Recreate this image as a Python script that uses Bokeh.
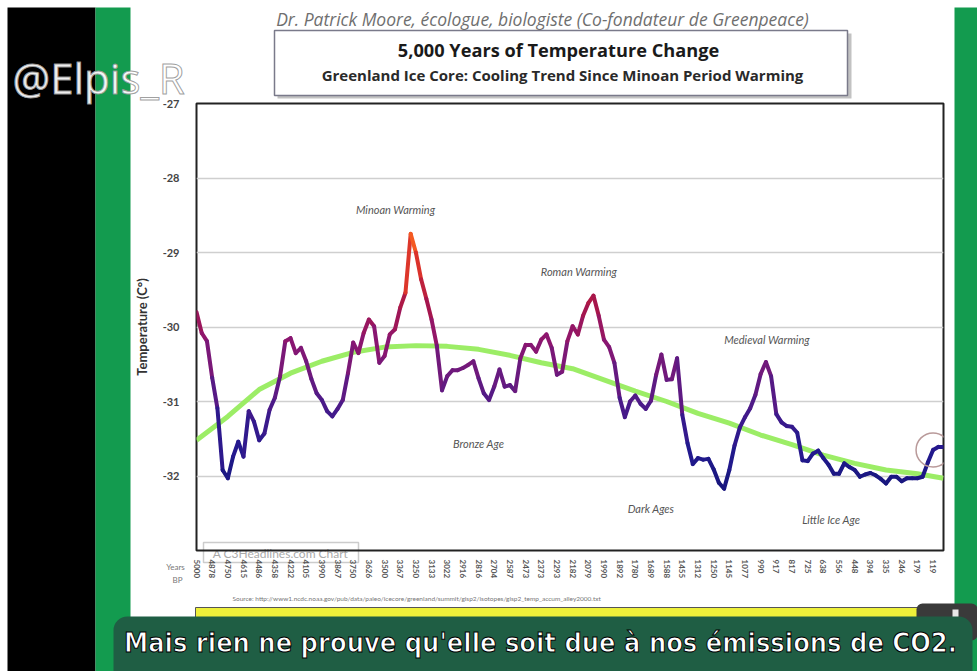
import numpy as np
from bokeh.plotting import figure
from bokeh.models import (ColumnDataSource, FixedTicker, LinearColorMapper, Range1d, GridBox)
from bokeh.core.properties import value
from bokeh.embed import file_html
from bokeh.resources import INLINE

# ---------------- data ----------------
years_bp = ["5000", "4878", "4750", "4615", "4486", "4358", "4232", "4105", "3990", "3867",
            "3750", "3626", "3500", "3367", "3250", "3133", "3022", "2916", "2816", "2704",
            "2587", "2473", "2373", "2293", "2182", "2079", "1990", "1892", "1780", "1689",
            "1588", "1455", "1312", "1250", "1145", "1077", "990", "917", "817", "725",
            "638", "556", "448", "394", "335", "246", "179", "119"]

# temperature samples, 3 per labelled tick interval
temps = [-29.80, -30.08, -30.19, -30.68, -31.09, -31.92, -32.03, -31.74, -31.54, -31.74,
         -31.13, -31.27, -31.52, -31.43, -31.11, -30.95, -30.66, -30.19, -30.15, -30.35,
         -30.28, -30.46, -30.70, -30.89, -30.98, -31.13, -31.20, -31.10, -30.98, -30.62,
         -30.21, -30.35, -30.08, -29.90, -29.99, -30.48, -30.39, -30.10, -30.03, -29.74,
         -29.54, -28.75, -29.00, -29.36, -29.62, -29.90, -30.25, -30.85, -30.66, -30.58,
         -30.58, -30.55, -30.51, -30.46, -30.69, -30.89, -30.98, -30.80, -30.57, -30.80,
         -30.78, -30.86, -30.42, -30.24, -30.24, -30.33, -30.17, -30.10, -30.28, -30.64,
         -30.60, -30.19, -29.99, -30.10, -29.85, -29.68, -29.58, -29.85, -30.17, -30.27,
         -30.48, -30.95, -31.21, -31.00, -30.92, -31.03, -31.10, -30.99, -30.64, -30.37,
         -30.71, -30.70, -30.42, -31.18, -31.56, -31.84, -31.76, -31.78, -31.77, -31.91,
         -32.09, -32.17, -31.92, -31.59, -31.35, -31.21, -31.09, -30.91, -30.63, -30.47,
         -30.66, -31.17, -31.28, -31.33, -31.34, -31.42, -31.79, -31.80, -31.70, -31.66,
         -31.76, -31.85, -31.97, -31.97, -31.83, -31.88, -31.92, -32.01, -31.98, -31.96,
         -31.99, -32.04, -32.10, -32.01, -32.01, -32.07, -32.03, -32.03, -32.03, -32.01,
         -31.82, -31.65, -31.61, -31.61]

# smoothed trend, every 6th sample (plus last)
trend = [-31.52, -31.20, -30.84, -30.62, -30.46, -30.34, -30.27, -30.25, -30.26, -30.30,
         -30.38, -30.48, -30.56, -30.71, -30.86, -31.00, -31.16, -31.29, -31.45, -31.58,
         -31.72, -31.83, -31.92, -31.97, -32.03]

y_ticks = [-32, -31, -30, -29, -28, -27]

ann_text = ["Minoan Warming", "Roman Warming", "Medieval Warming", "Bronze Age", "Dark Ages", "Little Ice Age"]
ann_x = [12.7, 24.4, 36.4, 18.0, 29.0, 40.5]
ann_y = [-28.42, -29.25, -30.17, -31.56, -32.44, -32.58]

# ---------------- derived ----------------
t = np.array(temps)
x = np.arange(len(t)) / 3.0
tr_idx = list(range(0, len(t), 6)) + [len(t) - 1]
tx = x[tr_idx]

anch_v = [-32.2, -31.7, -31.2, -30.7, -30.2, -29.7, -29.2, -28.75]
anch_c = ["#16167a", "#22198e", "#3f1a8c", "#661a80", "#8c1670", "#a8164a", "#d82e2c", "#ff6a1e"]
def hx(c):
    return np.array([int(c[i:i + 2], 16) for i in (1, 3, 5)], float)
cols = np.array([hx(c) for c in anch_c])
vals = np.linspace(anch_v[0], anch_v[-1], 256)
palette = []
for v in vals:
    rgb = [np.interp(v, anch_v, cols[:, k]) for k in range(3)]
    palette.append("#%02x%02x%02x" % tuple(int(round(c)) for c in rgb))
mapper = LinearColorMapper(palette=palette, low=anch_v[0], high=anch_v[-1])

W, H = 977, 671

# ---------------- background / decoration layer (page pixels) ----------------
bg = figure(width=W, height=H, output_backend="svg", toolbar_location=None,
            x_range=Range1d(0, W), y_range=Range1d(H, 0), x_axis_type=None, y_axis_type=None,
            min_border=0)
bg.frame_align = False
bg.grid.visible = False
bg.outline_line_color = None
bg.background_fill_color = "white"
bg.border_fill_color = "white"

def quad(l, t_, r, b, fill, line=None, lw=1, alpha=1.0, radius=0):
    bg.quad(left=[l], right=[r], top=[t_], bottom=[b], fill_color=fill, fill_alpha=alpha,
            line_color=line, line_width=lw, border_radius=radius)

def txt(X, Y, s, size, color, font="Lato", style="normal", align="left", alpha=1.0, outline=None):
    bg.text(x=[X], y=[Y], text=[s], text_font=value(font), text_font_style=style,
            text_font_size=size, text_color=color, text_align=align, text_baseline="middle",
            text_alpha=alpha, text_outline_color=outline)

quad(7, 7, 95, H, "#000000")
quad(95, 7, 130, H, "#139b4f")
quad(954, 7, W, H, "#139b4f")

# title box
quad(277, 33, 851, 98, "#9a9a9a", alpha=0.6)
quad(274, 30, 847, 95, "#ffffff", line="#7a7a8a", lw=1.5)
txt(542, 18, "Dr. Patrick Moore, écologue, biologiste (Co-fondateur de Greenpeace)",
    "17.5px", "#6f6f6f", font="Open Sans", style="italic", align="center")
txt(558, 49, "5,000 Years of Temperature Change", "18.2px", "#1a1a1a", font="Open Sans",
    style="bold", align="center")
txt(562, 74, "Greenland Ice Core: Cooling Trend Since Minoan Period Warming", "15px",
    "#2a2a2a", font="Open Sans", style="bold", align="center")

# axis extras
txt(175, 566, "Years", "8px", "#777777", align="center")
txt(177, 579, "BP", "8px", "#777777", align="center")
quad(203, 542, 358, 562, None, line="#cccccc", lw=1.5)
txt(280, 553, "A C3Headlines.com Chart", "12px", "#aaaaaa", align="center")
txt(232, 598, "Source: http://www1.ncdc.noaa.gov/pub/data/paleo/icecore/greenland/summit/gisp2/isotopes/gisp2_temp_accum_alley2000.txt",
    "6.5px", "#777777")

# bottom strip
quad(195, 607, 922, 630, "#eef03a", line="#555555", lw=1)
quad(916, 603, W, 640, "#3a3a3a", radius=6)
quad(952, 609, 958, 625, "#e8e8e8")
quad(113, 616, 972, H + 20, "#1f5e44", radius=14)
txt(540, 642, "Mais rien ne prouve qu'elle soit due à nos émissions de CO2.", "27px", "#ffffff",
    font="'DejaVu Sans Condensed', Roboto, sans-serif", style="bold", align="center",
    outline="#000000")

# watermark
txt(12, 77, "@Elpis_R", "42px", "#ffffff", font="Open Sans", alpha=0.95, outline="#9a9a9a")

# ---------------- chart layer ----------------
p = figure(width=W, height=H, output_backend="svg", toolbar_location=None,
           x_range=Range1d(0, x[-1]), y_range=Range1d(-33, -27),
           min_border_left=196, min_border_right=34, min_border_top=103, min_border_bottom=121)
p.frame_align = False
p.background_fill_color = None
p.border_fill_color = None
p.outline_line_color = "#222222"
p.outline_line_width = 2

p.xgrid.visible = False
p.ygrid.grid_line_color = "#cfcfcf"
p.ygrid.grid_line_width = 1.5

ya = p.yaxis[0]
ya.ticker = FixedTicker(ticks=y_ticks)
ya.major_label_overrides = {v: str(v) for v in y_ticks}
ya.axis_line_color = None
ya.major_tick_line_color = None
ya.minor_tick_line_color = None
ya.major_label_text_font = "Lato"
ya.major_label_text_font_style = "bold"
ya.major_label_text_font_size = "11px"
ya.major_label_text_color = "#444444"
ya.major_label_standoff = 11
ya.axis_label = "Temperature (C°)"
ya.axis_label_text_font = "Lato"
ya.axis_label_text_font_style = "bold"
ya.axis_label_text_font_size = "13px"
ya.axis_label_text_color = "#333333"
ya.axis_label_standoff = 10

xa = p.xaxis[0]
xa.ticker = FixedTicker(ticks=list(range(len(years_bp))))
xa.major_label_overrides = {i: s for i, s in enumerate(years_bp)}
xa.major_label_orientation = "vertical"
xa.axis_line_color = None
xa.major_tick_line_color = None
xa.minor_tick_line_color = None
xa.major_label_text_font = "Lato"
xa.major_label_text_font_style = "bold"
xa.major_label_text_font_size = "8px"
xa.major_label_text_color = "#555555"
xa.major_label_standoff = 3

p.line(tx, trend, line_color="#97ec5e", line_width=5, line_alpha=0.95)

src = ColumnDataSource(dict(x0=x[:-1], y0=t[:-1], x1=x[1:], y1=t[1:], tm=(t[:-1] + t[1:]) / 2))
p.segment("x0", "y0", "x1", "y1", source=src, line_width=4, line_cap="round",
          line_color={"field": "tm", "transform": mapper})

p.scatter(x=[x[-3]], y=[t[-3]], size=34, fill_color=None, line_color="#b99a9a", line_width=1.5)

p.text(x=ann_x, y=ann_y, text=ann_text, text_font=value("Lato"), text_font_style="italic",
       text_font_size="11px", text_color="#555555", text_align="center", text_baseline="middle")

layout = GridBox(children=[(bg, 0, 0), (p, 0, 0)])
open("out.html", "w").write(file_html(layout, INLINE))
